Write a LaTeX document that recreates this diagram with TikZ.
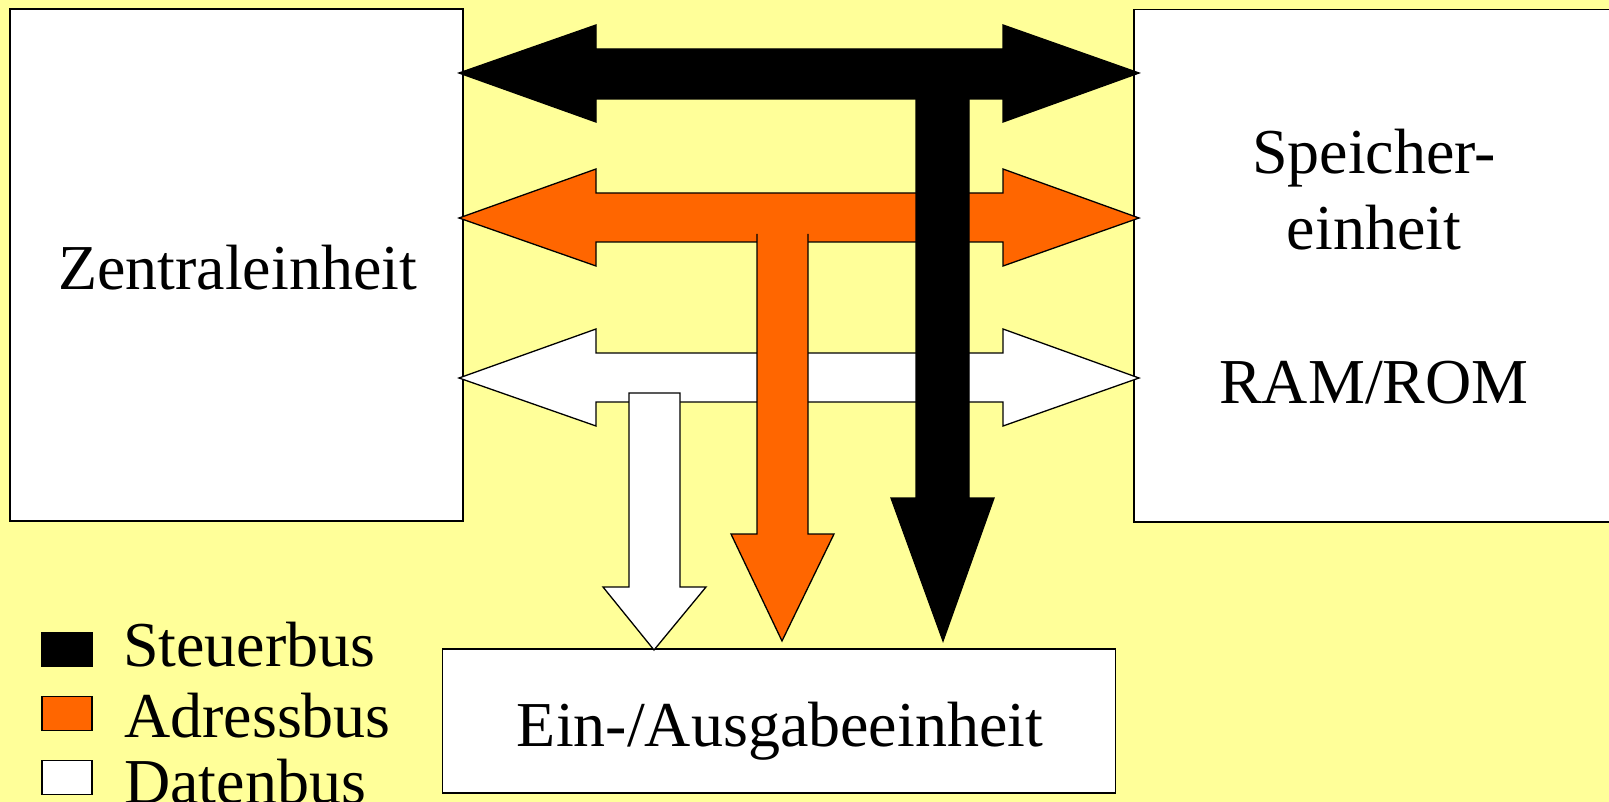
\documentclass[tikz,border=0pt]{standalone}
\usepackage{fontspec}
\setmainfont{Liberation Serif}
\definecolor{bgyellow}{HTML}{FFFF99}
\definecolor{busorange}{HTML}{FF6600}
\tikzset{
  unitbox/.style={draw=black, fill=white, line width=1.5pt, inner sep=0pt},
  lbl/.style={font=\fontsize{64}{76.5}\selectfont, inner sep=0pt, align=center},
  legsq/.style={draw=black, line width=1.3pt, minimum width=50pt, minimum height=34pt, inner sep=0pt},
  busline/.style={draw=black, line width=1.3pt, line join=miter},
}
\begin{document}
\begin{tikzpicture}[x=1pt,y=-1pt]
\useasboundingbox (0,0) rectangle (1609,802);
\fill[bgyellow] (0,0) rectangle (1609,802);
\begin{scope}
\clip (0,0) rectangle (1609,802);
% units
\node[unitbox, minimum width=453pt, minimum height=512pt] (cpu) at (236.5,265) {};
\node[unitbox, minimum width=492pt, minimum height=512.5pt] (mem) at (1380,265.75) {};
\node[unitbox, minimum width=673pt, minimum height=144pt] (io) at (779,721) {};
\node[lbl, anchor=base] (cputext) at (237.5,290) {Zentraleinheit};
\node[lbl, anchor=base] (memtext1) at (1374,174) {Speicher-};
\node[lbl, anchor=base] (memtext2) at (1374,250) {einheit};
\node[lbl, anchor=base] (memtext3) at (1374,403) {RAM/ROM};
\node[lbl, anchor=base] (iotext) at (780,746) {Ein-/Ausgabeeinheit};
% Datenbus (white)
\filldraw[busline, fill=white] (459,378) -- (596,329) -- (596,353) -- (1003,353) -- (1003,329) -- (1139,378) -- (1003,426) -- (1003,402) -- (596,402) -- (596,426) -- cycle;
\filldraw[busline, fill=white] (629,393) -- (629,587) -- (603,587) -- (654,650) -- (706,587) -- (680,587) -- (680,393) -- cycle;
% Adressbus (orange)
\filldraw[busline, fill=busorange] (459,218) -- (596,169) -- (596,193) -- (1003,193) -- (1003,169) -- (1139,218) -- (1003,266) -- (1003,242) -- (596,242) -- (596,266) -- cycle;
\fill[busorange] (757,230) -- (757,534) -- (731,534) -- (782,641) -- (834,534) -- (808,534) -- (808,230) -- cycle;
\draw[busline] (757,234) -- (757,534) -- (731,534) -- (782,641) -- (834,534) -- (808,534) -- (808,234);
% Steuerbus (black)
\filldraw[busline, fill=black] (459,73) -- (596,25) -- (596,49) -- (1003,49) -- (1003,25) -- (1139,73) -- (1003,122) -- (1003,99) -- (596,99) -- (596,122) -- cycle;
\filldraw[busline, fill=black] (916,80) -- (916,498) -- (891,498) -- (943,641) -- (994,498) -- (969,498) -- (969,80) -- cycle;
% legend
\node[legsq, fill=black] (lsteuer) at (67,649.5) {};
\node[legsq, fill=busorange] (ladress) at (67,713.5) {};
\node[legsq, fill=white] (ldaten) at (67,777.5) {};
\node[lbl, anchor=base west] (tsteuer) at (123,666) {Steuerbus};
\node[lbl, anchor=base west] (tadress) at (124,737) {Adressbus};
\node[lbl, anchor=base west] (tdaten) at (124,803) {Datenbus};
\end{scope}
\end{tikzpicture}
\end{document}
